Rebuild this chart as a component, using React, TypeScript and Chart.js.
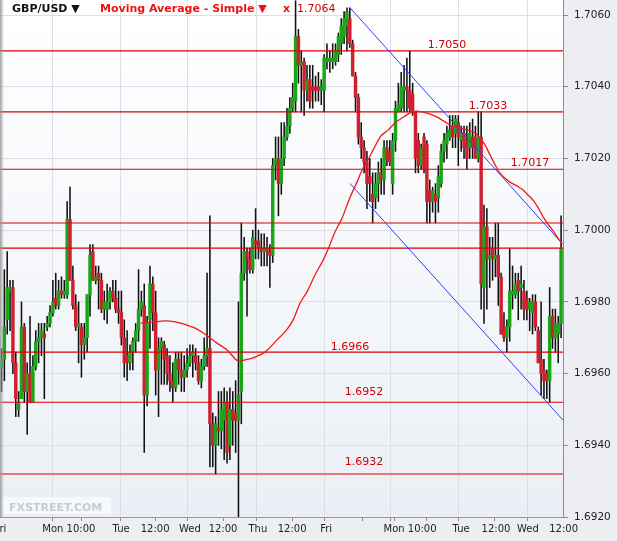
import React, { useEffect, useRef } from 'react';
import { Chart, registerables } from 'chart.js';
Chart.register(...registerables);

const FONT = '"DejaVu Sans", Verdana, sans-serif';

// Hourly GBP/USD candles (index 0 = Fri morning of week 1, last = Wed 11:00 of week 2)
const opens = [
  1.6962, 1.6964, 1.6975, 1.6983, 1.6984, 1.6963, 1.6950, 1.6953, 1.6973, 1.6955,
  1.6960, 1.6952, 1.6962, 1.6969, 1.6970, 1.6971, 1.6973, 1.6974, 1.6977, 1.6981,
  1.6979, 1.6983, 1.6982, 1.6982, 1.7003, 1.6986, 1.6979, 1.6973, 1.6973, 1.6968,
  1.6970, 1.6982, 1.6994, 1.6986, 1.6988, 1.6986, 1.6978, 1.6978, 1.6980, 1.6983,
  1.6981, 1.6978, 1.6977, 1.6970, 1.6965, 1.6963, 1.6966, 1.6969, 1.6972, 1.6978,
  1.6979, 1.6954, 1.6975, 1.6985, 1.6977, 1.6961, 1.6967, 1.6968, 1.6965, 1.6960,
  1.6958, 1.6956, 1.6964, 1.6961, 1.6959, 1.6961, 1.6963, 1.6965, 1.6965, 1.6963,
  1.6958, 1.6962, 1.6965, 1.6967, 1.6946, 1.6940, 1.6945, 1.6944, 1.6947, 1.6952,
  1.6940, 1.6950, 1.6949, 1.6947, 1.6955, 1.6988, 1.6994, 1.6992, 1.6989, 1.6997,
  1.6997, 1.6995, 1.6994, 1.6995, 1.6994, 1.6993, 1.7018, 1.7020, 1.7013, 1.7020,
  1.7026, 1.7029, 1.7034, 1.7036, 1.7054, 1.7046, 1.7047, 1.7039, 1.7042, 1.7040,
  1.7040, 1.7040, 1.7039, 1.7039, 1.7047, 1.7047, 1.7047, 1.7047, 1.7049, 1.7052,
  1.7054, 1.7057, 1.7059, 1.7052, 1.7043, 1.7037, 1.7026, 1.7023, 1.7019, 1.7015,
  1.7010, 1.7009, 1.7013, 1.7016, 1.7014, 1.7023, 1.7022, 1.7013, 1.7025, 1.7033,
  1.7034, 1.7039, 1.7040, 1.7039, 1.7038, 1.7033, 1.7025, 1.7018, 1.7026, 1.7024,
  1.7011, 1.7008, 1.7010, 1.7009, 1.7013, 1.7022, 1.7024, 1.7026, 1.7029, 1.7027,
  1.7030, 1.7025, 1.7027, 1.7025, 1.7023, 1.7026, 1.7026, 1.7020, 1.7026, 1.6984,
  1.7001, 1.6992, 1.6995, 1.6992, 1.6993, 1.6987, 1.6973, 1.6970, 1.6973, 1.6982,
  1.6982, 1.6986, 1.6984, 1.6983, 1.6981, 1.6978, 1.6977, 1.6980, 1.6972, 1.6964,
  1.6961, 1.6960, 1.6958, 1.6976, 1.6970, 1.6971, 1.6974,
];
const highs = [
  1.6967, 1.6989, 1.6994, 1.6986, 1.6986, 1.6966, 1.6955, 1.6980, 1.6974, 1.6963,
  1.6976, 1.6965, 1.6972, 1.6974, 1.6974, 1.6974, 1.6976, 1.6979, 1.6986, 1.6988,
  1.6986, 1.6987, 1.6986, 1.7008, 1.7012, 1.6990, 1.6982, 1.6980, 1.6974, 1.6974,
  1.6982, 1.6996, 1.6996, 1.6990, 1.6990, 1.6988, 1.6983, 1.6985, 1.6984, 1.6986,
  1.6986, 1.6983, 1.6983, 1.6975, 1.6972, 1.6968, 1.6970, 1.6974, 1.6989, 1.6983,
  1.6985, 1.6976, 1.6990, 1.6987, 1.6983, 1.6970, 1.6970, 1.6969, 1.6967, 1.6965,
  1.6963, 1.6966, 1.6966, 1.6966, 1.6965, 1.6967, 1.6968, 1.6968, 1.6967, 1.6965,
  1.6964, 1.6970, 1.6988, 1.7004, 1.6949, 1.6948, 1.6955, 1.6955, 1.6956, 1.6955,
  1.6956, 1.6955, 1.6958, 1.6980, 1.7002, 1.6998, 1.6995, 1.6995, 1.7000, 1.7006,
  1.7000, 1.6999, 1.6999, 1.6998, 1.6996, 1.7020, 1.7026, 1.7026, 1.7030, 1.7030,
  1.7034, 1.7037, 1.7041, 1.7064, 1.7056, 1.7050, 1.7048, 1.7046, 1.7046, 1.7046,
  1.7043, 1.7044, 1.7042, 1.7049, 1.7052, 1.7050, 1.7052, 1.7052, 1.7055, 1.7059,
  1.7061, 1.7062, 1.7062, 1.7053, 1.7044, 1.7038, 1.7030, 1.7025, 1.7022, 1.7020,
  1.7016, 1.7016, 1.7019, 1.7020, 1.7025, 1.7025, 1.7025, 1.7027, 1.7036, 1.7041,
  1.7044, 1.7046, 1.7048, 1.7050, 1.7041, 1.7033, 1.7027, 1.7024, 1.7027, 1.7025,
  1.7014, 1.7012, 1.7013, 1.7018, 1.7024, 1.7027, 1.7029, 1.7032, 1.7032, 1.7032,
  1.7032, 1.7029, 1.7029, 1.7029, 1.7030, 1.7031, 1.7029, 1.7033, 1.7033, 1.7007,
  1.7006, 1.6998, 1.6998, 1.7002, 1.7002, 1.6988, 1.6977, 1.6975, 1.6995, 1.6990,
  1.6988, 1.6988, 1.6990, 1.6986, 1.6983, 1.6981, 1.6982, 1.6982, 1.6973, 1.6980,
  1.6964, 1.6961, 1.6984, 1.6978, 1.6978, 1.6976, 1.7004,
];
const lows = [
  1.6955, 1.6958, 1.6971, 1.6972, 1.6960, 1.6948, 1.6948, 1.6953, 1.6952, 1.6943,
  1.6952, 1.6952, 1.6961, 1.6963, 1.6965, 1.6953, 1.6972, 1.6973, 1.6976, 1.6978,
  1.6978, 1.6981, 1.6981, 1.6981, 1.6986, 1.6978, 1.6972, 1.6963, 1.6959, 1.6964,
  1.6966, 1.6976, 1.6986, 1.6985, 1.6978, 1.6977, 1.6975, 1.6974, 1.6978, 1.6980,
  1.6977, 1.6974, 1.6968, 1.6959, 1.6958, 1.6961, 1.6961, 1.6966, 1.6969, 1.6976,
  1.6938, 1.6951, 1.6967, 1.6972, 1.6954, 1.6948, 1.6957, 1.6957, 1.6957, 1.6955,
  1.6952, 1.6955, 1.6957, 1.6955, 1.6955, 1.6959, 1.6962, 1.6959, 1.6961, 1.6957,
  1.6956, 1.6961, 1.6962, 1.6934, 1.6934, 1.6932, 1.6940, 1.6939, 1.6936, 1.6935,
  1.6936, 1.6940, 1.6938, 1.6920, 1.6946, 1.6986, 1.6976, 1.6988, 1.6988, 1.6992,
  1.6992, 1.6990, 1.6990, 1.6990, 1.6984, 1.6991, 1.7014, 1.7004, 1.7010, 1.7018,
  1.7025, 1.7027, 1.7033, 1.7033, 1.7041, 1.7033, 1.7032, 1.7036, 1.7034, 1.7034,
  1.7036, 1.7036, 1.7035, 1.7033, 1.7045, 1.7044, 1.7045, 1.7046, 1.7047, 1.7049,
  1.7052, 1.7050, 1.7051, 1.7043, 1.7033, 1.7024, 1.7020, 1.7016, 1.7006, 1.7008,
  1.7002, 1.7006, 1.7008, 1.7010, 1.7010, 1.7018, 1.7018, 1.7010, 1.7022, 1.7033,
  1.7033, 1.7033, 1.7033, 1.7033, 1.7032, 1.7016, 1.7016, 1.7017, 1.7016, 1.7002,
  1.7002, 1.7005, 1.7002, 1.7005, 1.7012, 1.7019, 1.7020, 1.7025, 1.7023, 1.7023,
  1.7018, 1.7022, 1.7020, 1.7017, 1.7020, 1.7020, 1.7020, 1.7019, 1.6978, 1.6974,
  1.6978, 1.6984, 1.6986, 1.6987, 1.6979, 1.6971, 1.6969, 1.6966, 1.6969, 1.6978,
  1.6981, 1.6975, 1.6978, 1.6975, 1.6975, 1.6972, 1.6971, 1.6972, 1.6963, 1.6954,
  1.6953, 1.6953, 1.6952, 1.6967, 1.6966, 1.6963, 1.6970,
];
const closes = [
  1.6964, 1.6973, 1.6984, 1.6984, 1.6963, 1.6953, 1.6952, 1.6973, 1.6955, 1.6960,
  1.6952, 1.6962, 1.6969, 1.6970, 1.6972, 1.6970, 1.6974, 1.6977, 1.6980, 1.6979,
  1.6983, 1.6982, 1.6983, 1.7003, 1.6986, 1.6979, 1.6973, 1.6974, 1.6968, 1.6970,
  1.6982, 1.6993, 1.6986, 1.6987, 1.6986, 1.6978, 1.6980, 1.6980, 1.6983, 1.6981,
  1.6978, 1.6977, 1.6970, 1.6963, 1.6963, 1.6966, 1.6969, 1.6972, 1.6978, 1.6980,
  1.6954, 1.6974, 1.6985, 1.6977, 1.6961, 1.6967, 1.6969, 1.6964, 1.6960, 1.6958,
  1.6956, 1.6964, 1.6961, 1.6959, 1.6961, 1.6963, 1.6965, 1.6966, 1.6963, 1.6958,
  1.6962, 1.6965, 1.6967, 1.6946, 1.6940, 1.6946, 1.6944, 1.6950, 1.6952, 1.6938,
  1.6950, 1.6947, 1.6947, 1.6954, 1.6988, 1.6994, 1.6992, 1.6989, 1.6998, 1.6996,
  1.6995, 1.6994, 1.6995, 1.6994, 1.6993, 1.7018, 1.7020, 1.7013, 1.7020, 1.7026,
  1.7029, 1.7034, 1.7037, 1.7054, 1.7046, 1.7047, 1.7039, 1.7042, 1.7036, 1.7039,
  1.7039, 1.7039, 1.7040, 1.7048, 1.7048, 1.7048, 1.7048, 1.7050, 1.7054, 1.7057,
  1.7059, 1.7061, 1.7052, 1.7043, 1.7037, 1.7026, 1.7023, 1.7019, 1.7013, 1.7013,
  1.7008, 1.7013, 1.7016, 1.7014, 1.7023, 1.7020, 1.7019, 1.7025, 1.7034, 1.7035,
  1.7040, 1.7040, 1.7039, 1.7034, 1.7033, 1.7020, 1.7018, 1.7023, 1.7017, 1.7008,
  1.7008, 1.7011, 1.7008, 1.7015, 1.7022, 1.7025, 1.7027, 1.7028, 1.7026, 1.7031,
  1.7026, 1.7027, 1.7023, 1.7020, 1.7027, 1.7023, 1.7020, 1.7026, 1.6985, 1.7001,
  1.6992, 1.6993, 1.6992, 1.6993, 1.6987, 1.6971, 1.6970, 1.6973, 1.6983, 1.6983,
  1.6985, 1.6983, 1.6985, 1.6978, 1.6978, 1.6980, 1.6980, 1.6973, 1.6963, 1.6960,
  1.6958, 1.6958, 1.6976, 1.6970, 1.6974, 1.6974, 1.6995,
];

// Simple moving average (candle index, price)
const maIdx = [
  48.8, 53.1, 57.3, 60.8, 65.0, 68.5, 71.6, 75.5, 79.0, 82.8,
  85.3, 88.8, 92.3, 96.5, 99.6, 102.1, 104.6, 107.0, 109.8, 112.3,
  114.4, 116.8, 119.3, 122.1, 124.5, 126.3, 128.4, 130.5, 132.9, 135.4,
  137.8, 140.3, 143.1, 145.2, 147.3, 150.1, 152.5, 155.3, 157.8, 160.6,
  163.4, 165.9, 167.6, 169.4, 171.1, 172.9, 174.6, 176.4, 178.1, 180.6,
  182.7, 184.4, 186.2, 188.0, 189.7, 191.4, 193.2, 194.9, 196.3,
];
const maVal = [
  1.69741, 1.69744, 1.69747, 1.69744, 1.69735, 1.69724, 1.69708, 1.69685, 1.69666, 1.69635,
  1.69638, 1.69646, 1.69660, 1.69694, 1.69719, 1.69749, 1.69797, 1.69828, 1.69875, 1.69911,
  1.69947, 1.69995, 1.70034, 1.70092, 1.70134, 1.70168, 1.70196, 1.70229, 1.70263, 1.70279,
  1.70299, 1.70313, 1.70327, 1.70332, 1.70330, 1.70324, 1.70316, 1.70302, 1.70290, 1.70285,
  1.70279, 1.70271, 1.70257, 1.70237, 1.70210, 1.70182, 1.70159, 1.70145, 1.70134, 1.70123,
  1.70112, 1.70098, 1.70084, 1.70062, 1.70037, 1.70017, 1.69998, 1.69978, 1.69964,
];

// Horizontal support / resistance levels
const levels = [1.7050, 1.7033, 1.7017, 1.7002, 1.6995, 1.6966, 1.6952, 1.6932];
const levelLabels = ['1.7050', '1.7033', '1.7017', '', '', '1.6966', '1.6952', '1.6932'];
const levelLabelIdx = [156, 170.4, 185.1, 0, 0, 122.1, 127, 127];
const levelLabelGap = [3, 3, 3, 0, 0, 2, 7, 9];

// Descending channel (candle index, price)
const upperIdx = [122.1, 196.7];
const upperVal = [1.7062, 1.6996];
const lowerIdx = [122.1, 196.7];
const lowerVal = [1.7013, 1.6947];

const highIdx = 103;
const highLabel = '1.7064';

// Axes
const X_MIN = -0.525;
const X_MAX = 196.67;
const Y_MIN = 1.692;
const Y_MAX = 1.70642;
const yTicks = [1.692, 1.694, 1.696, 1.698, 1.700, 1.702, 1.704, 1.706];
const xLabelPos = [-0.4, 23.6, 41.9, 53.8, 66.0, 77.6, 89.8, 101.8, 113.7, 143.1, 161.0, 173.2, 184.4, 196.9];
const xLabelText = ['Fri', 'Mon 10:00', 'Tue', '12:00', 'Wed', '12:00', 'Thu', '12:00', 'Fri', 'Mon 10:00', 'Tue', '12:00', 'Wed', '12:00'];
const dayGridPos = [17.7, 41.7, 65.3, 89.4, 113.3, 136.3, 160.2, 184.3];
const markPos = [27.9, 53.8, 77.6, 101.8, 126.3, 137.8, 149.0, 172.8];

const bgPlugin = {
  id: 'bg',
  beforeDraw(chart: any) {
    const { ctx, chartArea: a, width, height } = chart;
    ctx.save();
    ctx.fillStyle = '#eceef2';
    ctx.fillRect(0, 0, width, height);
    const g = ctx.createLinearGradient(0, a.top, 0, a.bottom);
    g.addColorStop(0, '#ffffff');
    g.addColorStop(1, '#ebeff5');
    ctx.fillStyle = g;
    ctx.fillRect(a.left, a.top, a.right - a.left, a.bottom - a.top);
    ctx.restore();
  },
};

const textPlugin = {
  id: 'texts',
  afterDatasetsDraw(chart: any) {
    const { ctx, scales } = chart;
    const x = scales.x;
    const y = scales.y;
    ctx.save();
    const sg = ctx.createLinearGradient(0, 0, 4, 0);
    sg.addColorStop(0, 'rgba(150,150,150,0.9)');
    sg.addColorStop(1, 'rgba(150,150,150,0)');
    ctx.fillStyle = sg;
    ctx.fillRect(0, 0, 4, chart.chartArea.bottom);

    ctx.font = `11px ${FONT}`;
    ctx.fillStyle = '#d40000';
    ctx.textAlign = 'center';
    ctx.textBaseline = 'alphabetic';
    levelLabels.forEach((t, k) => {
      if (!t) return;
      ctx.fillText(t, x.getPixelForValue(levelLabelIdx[k]), y.getPixelForValue(levels[k]) - levelLabelGap[k]);
    });

    const hx = x.getPixelForValue(highIdx);
    ctx.textAlign = 'left';
    ctx.font = `11px ${FONT}`;
    ctx.fillStyle = '#d40000';
    ctx.fillText(highLabel, hx + 1.5, 12);

    ctx.font = `bold 11px ${FONT}`;
    ctx.fillStyle = '#111111';
    ctx.fillText('GBP/USD \u25BC', 12, 12);
    ctx.fillStyle = '#ee1111';
    ctx.fillText('Moving Average - Simple \u25BC', 100, 12);
    ctx.fillText('x', 283, 12);

    ctx.fillStyle = 'rgba(255,255,255,0.55)';
    ctx.fillRect(3, 497, 108, 17);
    ctx.font = `bold 11px ${FONT}`;
    ctx.fillStyle = '#c6ccd6';
    ctx.fillText('FXSTREET.COM', 9, 511);
    ctx.restore();
  },
};

export default function App() {
  const ref = useRef<HTMLCanvasElement>(null);
  useEffect(() => {
    document.body.style.margin = '0';
    const canvas = ref.current;
    if (!canvas) return;
    const idx = opens.map((_, i) => i);
    const up = '#19a619';
    const down = '#d0202f';
    const colors = opens.map((o, i) => (closes[i] >= o ? up : down));

    const datasets: any[] = [];
    levels.forEach((v) => {
      datasets.push({
        type: 'line',
        data: [{ x: X_MIN, y: v }, { x: X_MAX, y: v }],
        borderColor: '#dd0000',
        borderWidth: 1.2,
        pointRadius: 0,
        order: 3,
      });
    });
    datasets.push({
      type: 'line',
      data: upperIdx.map((xv, i) => ({ x: xv, y: upperVal[i] })),
      borderColor: '#2f3fff',
      borderWidth: 1,
      pointRadius: 0,
      order: 2,
    });
    datasets.push({
      type: 'line',
      data: lowerIdx.map((xv, i) => ({ x: xv, y: lowerVal[i] })),
      borderColor: '#2f3fff',
      borderWidth: 1,
      pointRadius: 0,
      order: 2,
    });
    datasets.push({
      type: 'line',
      data: maIdx.map((xv, i) => ({ x: xv, y: maVal[i] })),
      borderColor: '#f21a1a',
      borderWidth: 1.3,
      pointRadius: 0,
      tension: 0.3,
      order: 1,
    });
    datasets.push({
      type: 'bar',
      data: idx.map((i) => ({ x: i, y: [opens[i], closes[i]] })),
      backgroundColor: colors,
      borderWidth: 0,
      barThickness: 2.8,
      grouped: false,
      minBarLength: 1,
      order: 4,
    });
    datasets.push({
      type: 'bar',
      data: idx.map((i) => ({ x: i, y: [lows[i], highs[i]] })),
      backgroundColor: '#111111',
      borderWidth: 0,
      barThickness: 0.9,
      grouped: false,
      order: 5,
    });

    const xTickDefs: any[] = [];
    xLabelPos.forEach((v, i) => xTickDefs.push({ value: v, lbl: xLabelText[i], kind: 'label' }));
    dayGridPos.forEach((v) => xTickDefs.push({ value: v, lbl: '', kind: 'grid' }));
    markPos.forEach((v) => xTickDefs.push({ value: v, lbl: '', kind: 'mark' }));
    xTickDefs.sort((a, b) => a.value - b.value);

    const chart = new Chart(canvas, {
      type: 'bar',
      data: { datasets },
      plugins: [bgPlugin, textPlugin],
      options: {
        responsive: false,
        animation: false,
        devicePixelRatio: 1,
        events: [],
        layout: { padding: 0 },
        plugins: { legend: { display: false }, tooltip: { enabled: false } },
        scales: {
          x: {
            type: 'linear',
            min: X_MIN,
            max: X_MAX,
            offset: false,
            afterBuildTicks: (s: any) => {
              s.ticks = xTickDefs.map((t) => ({ value: t.value, lbl: t.lbl, kind: t.kind }));
            },
            afterFit: (s: any) => {
              s.height = 24;
              s.paddingLeft = 0;
              s.paddingRight = 0;
            },
            ticks: {
              autoSkip: false,
              maxRotation: 0,
              minRotation: 0,
              padding: 2,
              color: '#222222',
              font: { family: FONT, size: 10 },
              callback: (_v: any, i: number, ts: any[]) => ts[i].lbl,
            },
            grid: {
              offset: false,
              drawOnChartArea: true,
              color: (c: any) => (c.tick && c.tick.kind === 'grid' ? '#dcdfe6' : 'rgba(0,0,0,0)'),
              tickColor: (c: any) => (c.tick && c.tick.kind !== 'label' ? '#8c8c8c' : 'rgba(0,0,0,0)'),
              tickLength: 4,
            },
            border: { display: true, color: '#9a9a9a' },
          },
          y: {
            type: 'linear',
            position: 'right',
            min: Y_MIN,
            max: Y_MAX,
            beginAtZero: false,
            afterBuildTicks: (s: any) => {
              s.ticks = yTicks.map((v) => ({ value: v }));
            },
            afterFit: (s: any) => {
              s.width = 54;
              s.paddingTop = 0;
              s.paddingBottom = 0;
            },
            ticks: {
              padding: 6,
              color: '#222222',
              font: { family: FONT, size: 10.5 },
              callback: (v: any) => Number(v).toFixed(4),
            },
            grid: { color: '#dcdfe6', tickColor: '#8c8c8c', tickLength: 5 },
            border: { display: true, color: '#8c8c8c' },
          },
        },
      } as any,
    });
    return () => chart.destroy();
  }, []);

  return (
    <div style={{ position: 'absolute', left: 0, top: 0, width: 617, height: 541 }}>
      <canvas ref={ref} width={617} height={541} style={{ width: 617, height: 541, display: 'block' }} />
    </div>
  );
}
